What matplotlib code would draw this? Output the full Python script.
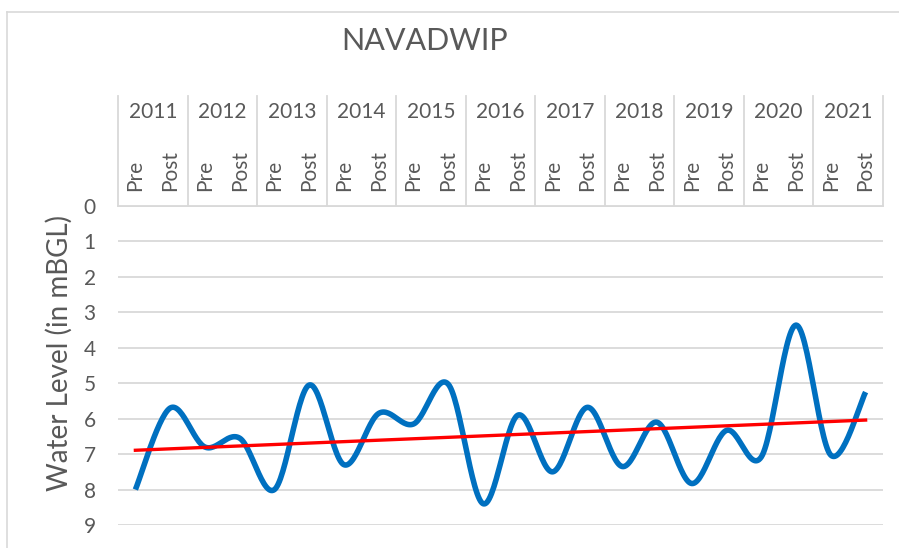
import numpy as np
import matplotlib.pyplot as plt
from matplotlib.lines import Line2D

plt.rcParams['font.family'] = ['Lato', 'DejaVu Sans']

years = [str(y) for y in range(2011, 2022)]
seasons = ['Pre', 'Post']
water_level = [8.0, 5.7, 6.8, 6.55, 8.0, 5.05, 7.3, 5.85, 6.15, 5.03, 8.4,
               5.9, 7.5, 5.68, 7.35, 6.1, 7.83, 6.33, 7.08, 3.36, 7.03, 5.25]
title = 'NAVADWIP'
ylabel = 'Water Level (in mBGL)'

grey = '#595959'
grid_col = '#d9d9d9'


def smooth(x, y, n=30):
    # bezier smoothing like excel's "smoothed line"
    x = np.asarray(x, float)
    y = np.asarray(y, float)
    xp = np.concatenate([[x[0]], x, [x[-1]]])
    yp = np.concatenate([[y[0]], y, [y[-1]]])
    t = np.linspace(0, 1, n)[:, None]
    out_x, out_y = [], []
    for i in range(len(x) - 1):
        p0 = np.array([x[i], y[i]])
        p3 = np.array([x[i+1], y[i+1]])
        p1 = p0 + (np.array([xp[i+2], yp[i+2]]) - np.array([xp[i], yp[i]])) / 6
        p2 = p3 - (np.array([xp[i+3], yp[i+3]]) - np.array([xp[i+1], yp[i+1]])) / 6
        b = (1-t)**3*p0 + 3*(1-t)**2*t*p1 + 3*(1-t)*t**2*p2 + t**3*p3
        out_x.append(b[:, 0])
        out_y.append(b[:, 1])
    return np.concatenate(out_x), np.concatenate(out_y)


W, H = 899, 548
fig = plt.figure(figsize=(W/100, H/100), dpi=100)
ax = fig.add_axes([118/W, 1-525/H, (883-118)/W, (525-206)/H])

xs = np.arange(len(water_level))
sx, sy = smooth(xs, water_level)
ax.plot(sx, sy, color='#0070C0', lw=4.0, solid_capstyle='butt', zorder=3)

coef = np.polyfit(xs, water_level, 1)
ax.plot([xs[0], xs[-1]], np.polyval(coef, [xs[0], xs[-1]]), color='#FF0000',
        lw=2.4, zorder=4)

ax.set_xlim(-0.5, len(water_level) - 0.5)
ax.set_ylim(9, 0)
ax.set_yticks(range(0, 10))
ax.tick_params(axis='y', length=0, labelsize=15, labelcolor=grey, pad=16)
ax.set_xticks([])
for s in ax.spines.values():
    s.set_visible(False)
ax.yaxis.grid(True, color=grid_col, lw=1.3)
ax.set_axisbelow(True)

# category header above the plot (axis is inverted so negative y is above)
unit = 319 / 9
top = -(206 - 96) / unit
ax.plot([-0.5, len(water_level) - 0.5], [0, 0], color=grid_col, lw=1.3,
        clip_on=False)
for k in range(len(years) + 1):
    xb = -0.5 + 2*k
    ax.plot([xb, xb], [0, top], color=grid_col, lw=1.3, clip_on=False)
for k, yr in enumerate(years):
    ax.text(2*k + 0.5, -(206 - 112) / unit, yr, ha='center', va='center',
            fontsize=15, color=grey)
    for j, s in enumerate(seasons):
        ax.text(2*k + j, -(206 - 191) / unit, s, rotation=90, ha='center',
                va='bottom', fontsize=15, color=grey)

fig.text(425/W, 1-41/H, title, ha='center', va='center', fontsize=22,
         color=grey)
fig.text(59/W, 1-353/H, ylabel, rotation=90, ha='center', va='center',
         fontsize=20, color=grey)

# outer chart border
fig.add_artist(Line2D([7/W, 7/W], [0, 1-12/H], color=grid_col, lw=1.2))
fig.add_artist(Line2D([7/W, 1], [1-12/H, 1-12/H], color=grid_col, lw=1.2))

fig.savefig('out.png', dpi=100)
